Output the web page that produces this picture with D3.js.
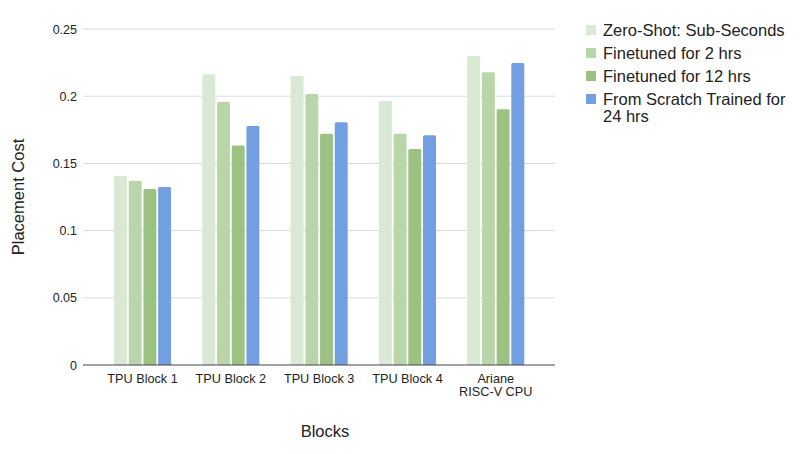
<!DOCTYPE html>
<html><head><meta charset="utf-8">
<script src="https://cdn.jsdelivr.net/npm/d3@7"></script>
<style>body{margin:0;background:#fff}svg{display:block;font-family:"Liberation Sans",Arial,sans-serif}</style>
</head><body>
<svg id="c" width="800" height="454"></svg>
<script>
const categories = [["TPU Block 1"],["TPU Block 2"],["TPU Block 3"],["TPU Block 4"],["Ariane","RISC-V CPU"]];
const seriesNames = ["Zero-Shot: Sub-Seconds","Finetuned for 2 hrs","Finetuned for 12 hrs","From Scratch Trained for 24 hrs"];
const zeroShot   = [0.1406, 0.2163, 0.2150, 0.1964, 0.2301];
const fine2      = [0.1371, 0.1957, 0.2016, 0.1721, 0.2178];
const fine12     = [0.1310, 0.1634, 0.1721, 0.1607, 0.1902];
const scratch24  = [0.1324, 0.1778, 0.1806, 0.1709, 0.2247];
const yTicks = [0, 0.05, 0.1, 0.15, 0.2, 0.25];
const colors = ["#d9e9d3","#b9d6aa","#9bc283","#729ee2"];

const series = [zeroShot, fine2, fine12, scratch24];
const svg = d3.select("#c");
const L = 83, R = 555, T = 29, B = 365;
const y = d3.scaleLinear().domain([0,0.25]).range([B,T]);
const x0 = d3.scaleBand().domain(d3.range(categories.length)).range([98.4, 539.9]).paddingInner(0.354).paddingOuter(0.177);
const x1 = d3.scaleBand().domain(d3.range(series.length)).range([0, x0.bandwidth()]).paddingInner(0.12);

// gridlines
svg.append("g").selectAll("line").data(yTicks.filter(d=>d>0)).join("line")
  .attr("x1",L).attr("x2",R).attr("y1",d=>y(d)).attr("y2",d=>y(d))
  .attr("stroke","#d9d9d9").attr("stroke-width",1);

// y axis labels
const yAxis = d3.axisLeft(y).tickValues(yTicks).tickSize(0).tickPadding(6).tickFormat(d=>String(d));
const ya = svg.append("g").attr("transform",`translate(${L},0)`).call(yAxis);
ya.select(".domain").remove();
ya.selectAll("text").attr("font-size",12.5).attr("fill","#222").attr("font-family","Liberation Sans, Arial, sans-serif");

// bars
const g = svg.append("g");
categories.forEach((c,i)=>{
  series.forEach((s,j)=>{
    const bx = x0(i)+x1(j), by = y(s[i]), bw = x1.bandwidth();
    g.append("path")
      .attr("d", `M${bx},${B} V${by+1.5} Q${bx},${by} ${bx+1.5},${by} H${bx+bw-1.5} Q${bx+bw},${by} ${bx+bw},${by+1.5} V${B} Z`)
      .attr("fill", colors[j]);
  });
});

// baseline
svg.append("line").attr("x1",L).attr("x2",R).attr("y1",B).attr("y2",B).attr("stroke","#444").attr("stroke-width",1);

// x labels
const xl = svg.append("g");
categories.forEach((c,i)=>{
  const cx = x0(i)+x0.bandwidth()/2;
  const t = xl.append("text").attr("x", cx).attr("y", 383)
    .attr("text-anchor","middle").attr("font-size",12.7).attr("fill","#222");
  c.forEach((line,k)=>t.append("tspan").attr("x", cx).attr("dy", k===0?0:12.5).text(line));
});

// axis titles
svg.append("text").attr("x",325).attr("y",437).attr("text-anchor","middle").attr("font-size",16.5).attr("fill","#222").text("Blocks");
svg.append("text").attr("transform",`translate(24,${(T+B)/2}) rotate(-90)`).attr("text-anchor","middle").attr("font-size",16.5).attr("fill","#222").text("Placement Cost");

// legend
const lg = svg.append("g");
const legendLines = [["Zero-Shot: Sub-Seconds"],["Finetuned for 2 hrs"],["Finetuned for 12 hrs"],["From Scratch Trained for","24 hrs"]];
legendLines.forEach((lines,j)=>{
  const cy = 30 + j*23;
  lg.append("rect").attr("x",586).attr("y",cy-5).attr("width",10).attr("height",10).attr("fill",colors[j]);
  const t = lg.append("text").attr("x",603).attr("y",cy+5.5).attr("font-size",16.5).attr("fill","#222");
  lines.forEach((ln,k)=>t.append("tspan").attr("x",603).attr("dy",k===0?0:17).text(ln));
});
</script>
</body></html>
